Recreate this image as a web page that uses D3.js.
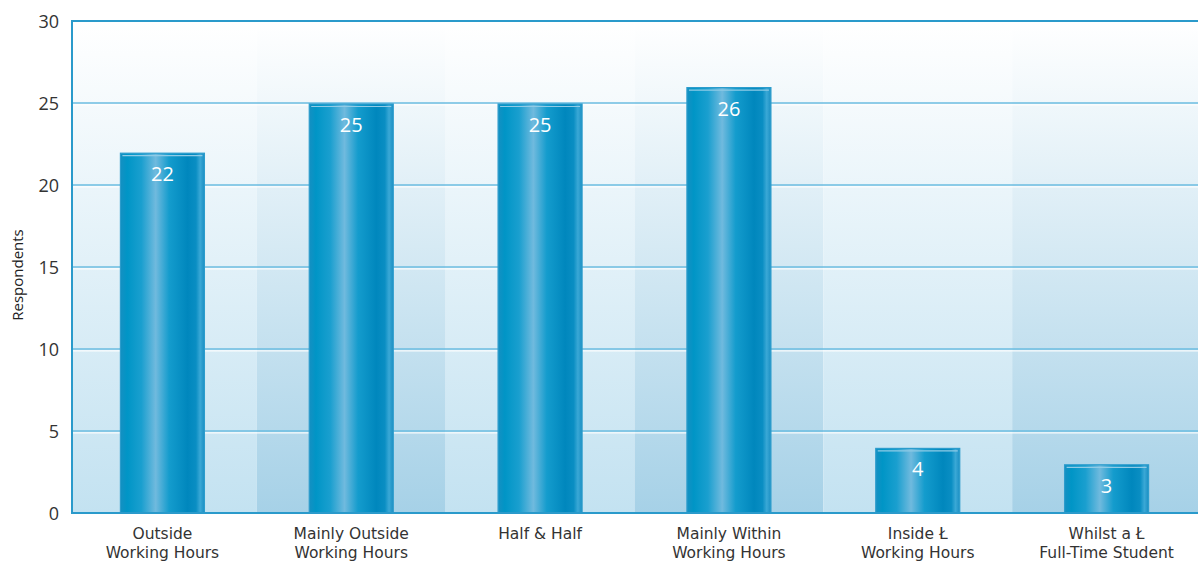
<!DOCTYPE html>
<html>
<head>
<meta charset="utf-8">
<script src="https://cdn.jsdelivr.net/npm/d3@7"></script>
<style>
  body { margin: 0; background: #fff; }
  svg text { font-family: "Open Sans", sans-serif; }
  svg text.cat { font-family: "DejaVu Sans", sans-serif; }
</style>
</head>
<body>
<svg id="chart" width="1198" height="563"></svg>
<script>
// Chart data
const categories = [
  ["Outside", "Working Hours"],
  ["Mainly Outside", "Working Hours"],
  ["Half & Half"],
  ["Mainly Within", "Working Hours"],
  ["Inside Ł", "Working Hours"],
  ["Whilst a Ł", "Full-Time Student"]
];
const respondents = [22, 25, 25, 26, 4, 3];
const yTicks = [0, 5, 10, 15, 20, 25, 30];

const svg = d3.select("#chart");
const plotLeft = 72, plotTop = 21, plotBottom = 513, plotRight = 1198;

const keys = categories.map((c, i) => i);
const x = d3.scaleBand().domain(keys).range([68, 1201]);
const y = d3.scaleLinear().domain([0, 30]).range([plotBottom, plotTop]);

const defs = svg.append("defs");

// background band gradients (white at top -> light blue at bottom)
function vGrad(id, bottomColor) {
  const g = defs.append("linearGradient").attr("id", id)
    .attr("x1", 0).attr("y1", 0).attr("x2", 0).attr("y2", 1);
  g.append("stop").attr("offset", "0%").attr("stop-color", "#ffffff");
  g.append("stop").attr("offset", "100%").attr("stop-color", bottomColor);
}
vGrad("bgLight", "#c3e2f1");
vGrad("bgDark", "#a6d1e7");

// bar gradient (cylinder look)
const bg = defs.append("linearGradient").attr("id", "barGrad")
  .attr("x1", 0).attr("y1", 0).attr("x2", 1).attr("y2", 0);
[["0%", "#1590c2"], ["8%", "#0095c6"], ["25%", "#1a9fcf"], ["42%", "#70bade"],
 ["58%", "#149ccd"], ["80%", "#0087bd"], ["90%", "#0a8ec3"], ["95%", "#3aa8d6"], ["100%", "#1b8fc3"]]
  .forEach(s => bg.append("stop").attr("offset", s[0]).attr("stop-color", s[1]));

// background bands
svg.append("g").selectAll("rect")
  .data(keys)
  .enter()
  .append("rect")
  .attr("x", d => Math.max(x(d), plotLeft))
  .attr("width", d => x(d) + x.bandwidth() - Math.max(x(d), plotLeft))
  .attr("y", plotTop)
  .attr("height", plotBottom - plotTop)
  .attr("fill", d => d % 2 === 0 ? "url(#bgLight)" : "url(#bgDark)");

// gridlines with a white line beneath
const grid = svg.append("g");
yTicks.filter(t => t > 0 && t < 30).forEach(t => {
  grid.append("line").attr("x1", plotLeft).attr("x2", plotRight)
    .attr("y1", y(t)).attr("y2", y(t))
    .attr("stroke", "#6bbde0").attr("stroke-width", 1.6);
  grid.append("line").attr("x1", plotLeft).attr("x2", plotRight)
    .attr("y1", y(t) + 1.8).attr("y2", y(t) + 1.8)
    .attr("stroke", "#ffffff").attr("stroke-width", 1.2).attr("opacity", 0.9);
});

// bars
const barW = 84;
const bars = svg.append("g").selectAll("g")
  .data(respondents)
  .enter()
  .append("g");

bars.append("rect")
  .attr("x", (d, i) => x(i) + x.bandwidth() / 2 - barW / 2)
  .attr("y", d => y(d) + 1)
  .attr("width", barW)
  .attr("height", d => plotBottom - y(d) - 1)
  .attr("fill", "url(#barGrad)")
  .attr("stroke", "#2c9ccc")
  .attr("stroke-width", 1.2);

// top highlight
bars.append("line")
  .attr("x1", (d, i) => x(i) + x.bandwidth() / 2 - barW / 2 + 2)
  .attr("x2", (d, i) => x(i) + x.bandwidth() / 2 + barW / 2 - 2)
  .attr("y1", d => y(d) + 3.5)
  .attr("y2", d => y(d) + 3.5)
  .attr("stroke", "#8fcbe6")
  .attr("stroke-width", 1.2);

bars.append("text")
  .attr("x", (d, i) => x(i) + x.bandwidth() / 2)
  .attr("y", d => y(d) + 29)
  .attr("text-anchor", "middle")
  .attr("fill", "#ffffff")
  .style("font-size", "20px")
  .text(d => d);

// axes frame: left, top, bottom
svg.append("line").attr("x1", plotLeft).attr("x2", plotRight).attr("y1", plotTop).attr("y2", plotTop)
  .attr("stroke", "#2a9acb").attr("stroke-width", 2);
svg.append("line").attr("x1", plotLeft).attr("x2", plotRight).attr("y1", plotBottom).attr("y2", plotBottom)
  .attr("stroke", "#2a9acb").attr("stroke-width", 2);
svg.append("line").attr("x1", plotLeft).attr("x2", plotLeft).attr("y1", plotTop - 1).attr("y2", plotBottom + 1)
  .attr("stroke", "#2a9acb").attr("stroke-width", 2);

// y axis labels
const yAxis = d3.axisLeft(y).tickValues(yTicks).tickSize(0).tickPadding(13);
const ya = svg.append("g").attr("transform", `translate(${plotLeft},0)`).call(yAxis);
ya.select(".domain").remove();
ya.selectAll("text").style("font-size", "18px").attr("fill", "#333").attr("dy", "0.35em");

svg.append("text")
  .attr("transform", `translate(23,${(plotTop + plotBottom) / 2 + 8}) rotate(-90)`)
  .attr("text-anchor", "middle")
  .attr("fill", "#222")
  .style("font-size", "15px")
  .text("Respondents");

// x axis category labels
const xl = svg.append("g").selectAll("text")
  .data(categories)
  .enter()
  .append("text")
  .attr("class", "cat")
  .attr("x", (d, i) => x(i) + x.bandwidth() / 2)
  .attr("y", 539)
  .attr("text-anchor", "middle")
  .attr("fill", "#333")
  .style("font-size", "15.5px");
xl.selectAll("tspan")
  .data(d => d)
  .enter()
  .append("tspan")
  .attr("x", function () { return d3.select(this.parentNode).attr("x"); })
  .attr("dy", (d, i) => i === 0 ? 0 : 19)
  .text(d => d);
</script>
</body>
</html>
